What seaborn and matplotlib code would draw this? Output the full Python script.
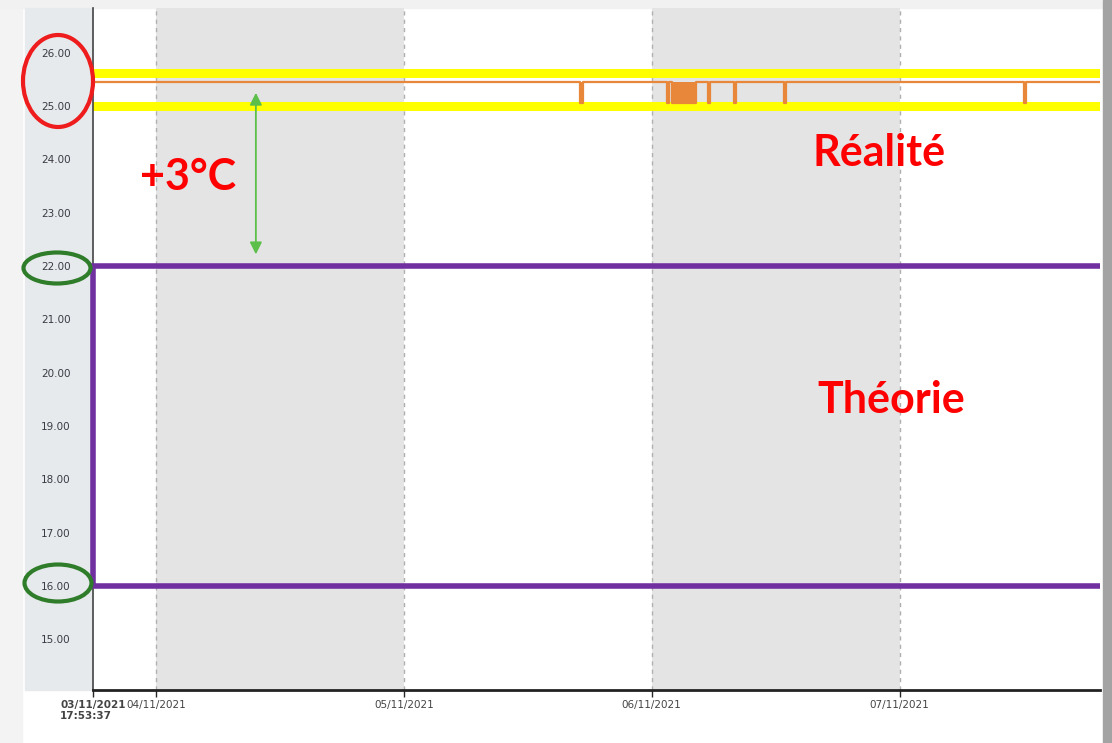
import pandas as pd
import seaborn as sns
import matplotlib.pyplot as plt
from matplotlib.patches import Ellipse, Rectangle

# data
start = "2021-11-03 17:53:37"
end = "2021-11-07 19:25:00"
day_ticks = ["2021-11-04", "2021-11-05", "2021-11-06", "2021-11-07"]
shaded_days = [("2021-11-04", "2021-11-05"), ("2021-11-06", "2021-11-07")]

band_low = 25.0
band_high = 25.62
setpoint_comfort = 22.0
setpoint_eco = 16.0

# measured temperature: flat at 25.45 with short drops to 25.05
real_times = ["2021-11-03 17:53:37",
              "2021-11-05 17:05", "2021-11-05 17:22",
              "2021-11-06 01:30", "2021-11-06 01:38",
              "2021-11-06 02:00", "2021-11-06 04:20",
              "2021-11-06 05:28", "2021-11-06 05:38",
              "2021-11-06 08:00", "2021-11-06 08:12",
              "2021-11-06 12:50", "2021-11-06 13:00",
              "2021-11-07 12:05", "2021-11-07 12:15",
              "2021-11-07 19:25"]
real_values = [25.45,
               25.05, 25.45,
               25.05, 25.45,
               25.05, 25.45,
               25.05, 25.45,
               25.05, 25.45,
               25.05, 25.45,
               25.05, 25.45,
               25.45]

y_ticks = [15, 16, 17, 18, 19, 20, 21, 22, 23, 24, 25, 26]

W, H = 1112, 743
sns.set_style("white")
fig = plt.figure(figsize=(W / 100, H / 100), dpi=100)
ax = fig.add_axes([93 / W, 1 - 690 / H, (1100 - 93) / W, (690 - 8) / H])

# frame decorations (screenshot look)
def bg(x, y, w, h, color):
    fig.patches.append(Rectangle((x / W, 1 - (y + h) / H), w / W, h / H,
                                 transform=fig.transFigure, color=color, zorder=-5))

bg(0, 0, 22, H, "#f3f3f3")
bg(0, 0, W, 8, "#f1f1f1")
bg(25, 8, 67, 682, "#e6eaec")
bg(1103, 0, 9, H, "#a3a3a3")

t0, t1 = pd.Timestamp(start), pd.Timestamp(end)

for a, b in shaded_days:
    ax.axvspan(pd.Timestamp(a), pd.Timestamp(b), color="#e4e4e4", lw=0, zorder=0)
for d in day_ticks:
    ax.axvline(pd.Timestamp(d), color="#b0b0b0", lw=1, ls=(0, (3, 3)), zorder=1)

# comfort band (yellow)
band = pd.DataFrame({"t": [t0, t1, t0, t1],
                     "v": [band_high, band_high, band_low, band_low],
                     "s": ["hi", "hi", "lo", "lo"]})
sns.lineplot(data=band, x="t", y="v", units="s", estimator=None,
             color="#ffff00", lw=6.5, ax=ax, zorder=2)

# measured temperature (orange)
real = pd.DataFrame({"t": pd.to_datetime(real_times, format="mixed"), "v": real_values})
sns.lineplot(data=real, x="t", y="v", drawstyle="steps-post",
             color="#e8873a", lw=1.6, ax=ax, zorder=3)
ax.fill_between(real["t"], real["v"], 25.45, step="post",
                color="#e8873a", lw=0, zorder=3)

# setpoints (purple)
sp = pd.DataFrame({"t": [t1, t0, t0, t1],
                   "v": [setpoint_comfort, setpoint_comfort, setpoint_eco, setpoint_eco]})
sns.lineplot(data=sp, x="t", y="v", sort=False, estimator=None,
             color="#7030a0", lw=4, ax=ax, zorder=4, clip_on=False,
             solid_capstyle="butt", solid_joinstyle="miter")

ax.set_xlim(t0, t1)
ax.set_ylim(14.05, 26.84)
ax.set_xlabel("")
ax.set_ylabel("")

ax.set_yticks(y_ticks)
ax.set_yticklabels([f"{v:.2f}" for v in y_ticks], fontsize=7.5, color="#3a3a44")
ax.tick_params(axis="y", length=0, pad=16)

xt = [t0] + [pd.Timestamp(d) for d in day_ticks]
ax.set_xticks(xt)
ax.set_xticklabels([t0.strftime("%d/%m/%Y\n%H:%M:%S")] +
                   [pd.Timestamp(d).strftime("%d/%m/%Y") for d in day_ticks],
                   fontsize=7.5, color="#444444")
ax.get_xticklabels()[0].set_fontweight("bold")
ax.get_xticklabels()[0].set_multialignment("left")
ax.tick_params(axis="x", direction="out", length=5, width=1, pad=2, bottom=True)

for s in ["top", "right"]:
    ax.spines[s].set_visible(False)
ax.spines["left"].set_color("#444444")
ax.spines["left"].set_linewidth(1.2)
ax.spines["bottom"].set_color("#222222")
ax.spines["bottom"].set_linewidth(2)
ax.patch.set_alpha(0)

# annotations
ax.annotate("", xy=(pd.Timestamp("2021-11-04 09:40"), 25.25),
            xytext=(pd.Timestamp("2021-11-04 09:40"), 22.22),
            arrowprops=dict(arrowstyle="<|-|>", color="#5cbf4a", lw=1.3,
                            mutation_scale=18, shrinkA=0, shrinkB=0), zorder=5)

txt = dict(color="#ff0000", fontweight="bold", family=["Lato", "DejaVu Sans"],
           fontsize=31, transform=ax.transAxes, va="center", ha="left")
ax.text((140 - 93) / 1007, (690 - 177) / 682, "+3°C", **txt)
ax.text((813 - 93) / 1007, (690 - 153) / 682, "Réalité", **txt)
ax.text((817 - 93) / 1007, (690 - 400) / 682, "Théorie", **txt)

def ring(cx, cy, w, h, color):
    fig.patches.append(Ellipse((cx / W, 1 - cy / H), w / W, h / H,
                               transform=fig.transFigure, fill=False,
                               edgecolor=color, lw=3, zorder=6))

ring(58, 81, 70, 92, "#ee1c1c")
ring(57, 268, 67, 31, "#2f7d2a")
ring(58, 583, 67, 37, "#2f7d2a")

fig.savefig("out.png", dpi=100)
